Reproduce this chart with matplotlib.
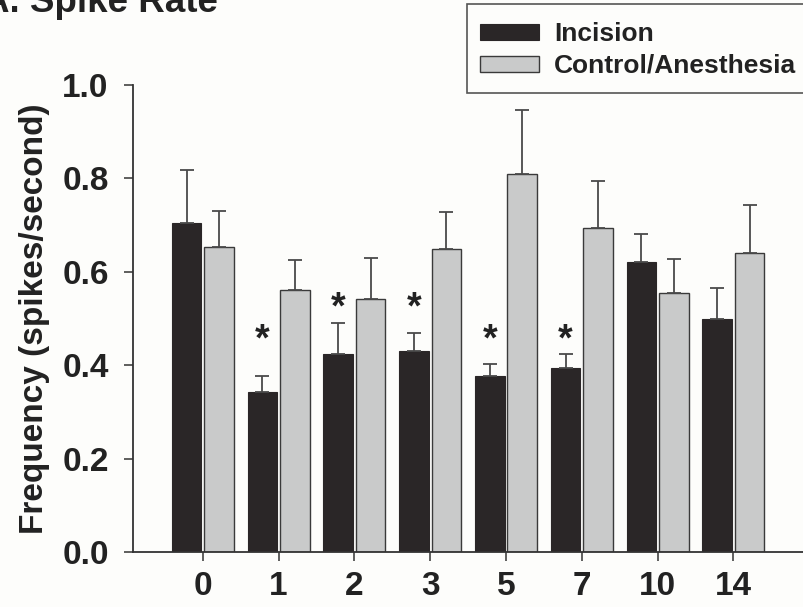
import matplotlib
matplotlib.use("Agg")
import matplotlib.pyplot as plt
from matplotlib.patches import Rectangle
import numpy as np

plt.rcParams['font.family'] = ['Liberation Sans', 'DejaVu Sans']
plt.rcParams['font.weight'] = 'bold'

# days after surgery and mean spike rates with upper SEM
days = ["0", "1", "2", "3", "5", "7", "10", "14"]
incision_mean = [0.704, 0.343, 0.425, 0.430, 0.377, 0.395, 0.621, 0.500]
incision_err = [0.114, 0.033, 0.065, 0.040, 0.025, 0.029, 0.061, 0.065]
control_mean = [0.653, 0.561, 0.541, 0.649, 0.809, 0.693, 0.555, 0.640]
control_err = [0.078, 0.064, 0.089, 0.080, 0.138, 0.101, 0.072, 0.102]
# significance markers (height in spikes/second)
star_days = ["1", "2", "3", "5", "7"]
star_level = [0.452, 0.522, 0.522, 0.452, 0.452]

bg = '#fdfdfb'
fig = plt.figure(figsize=(8.04, 6.07), dpi=100, facecolor=bg)
ax = fig.add_axes([133 / 804, 55 / 607, 671 / 804, 467 / 607])
ax.set_facecolor(bg)

x = np.arange(len(days))
w = 0.39
off = 0.214
ekw = dict(ecolor='#4a4a4a', elinewidth=1.3, capsize=4.8, capthick=1.3)

h1 = ax.bar(x - off, incision_mean, w, color='#2a2627', edgecolor='#2a2627',
            linewidth=0.8, label='Incision',
            yerr=[np.zeros(len(days)), incision_err], error_kw=ekw, zorder=2)
h2 = ax.bar(x + off, control_mean, w, color='#c9caca', edgecolor='#3a3a3a',
            linewidth=1.0, label='Control/Anesthesia',
            yerr=[np.zeros(len(days)), control_err], error_kw=ekw, zorder=2)

for d, lvl in zip(star_days, star_level):
    i = days.index(d)
    ax.text(i - off, lvl, '*', ha='center', va='center', fontsize=27,
            fontweight='bold', color='#222222')

ax.set_xlim(-0.92, 7.93)
ax.set_ylim(0, 1.0)
ax.set_xticks(x)
ax.set_xticklabels(days)
ax.set_yticks([0, 0.2, 0.4, 0.6, 0.8, 1.0])
ax.set_yticklabels(['0.0', '0.2', '0.4', '0.6', '0.8', '1.0'])
ax.tick_params(axis='both', direction='out', length=6.5, width=1.1,
               color='#333333', labelsize=24, labelcolor='#222222')
ax.tick_params(axis='x', pad=7)
ax.tick_params(axis='y', pad=11)
for lab in ax.get_xticklabels() + ax.get_yticklabels():
    lab.set_fontweight('bold')
for s in ['top', 'right']:
    ax.spines[s].set_visible(False)
for s in ['left', 'bottom']:
    ax.spines[s].set_color('#333333')
    ax.spines[s].set_linewidth(1.3)

ax.set_ylabel('Frequency (spikes/second)', fontsize=24, fontweight='bold',
              color='#222222')
ax.yaxis.set_label_coords(-0.124, 0.5)

# legend box runs past the right edge of the figure
fig.patches.append(Rectangle((467 / 804, 1 - 93 / 607), 0.6, 89 / 607,
                             transform=fig.transFigure, facecolor=bg,
                             edgecolor='#555555', linewidth=1.2))
leg = fig.legend(handles=[h1, h2], loc='upper left',
                 bbox_to_anchor=(480 / 804, 1 - 22 / 607),
                 bbox_transform=fig.transFigure, fontsize=19, frameon=False,
                 handlelength=2.23, handleheight=0.55, handletextpad=0.57,
                 labelspacing=0.3, borderpad=0, borderaxespad=0)
for t in leg.get_texts():
    t.set_fontweight('bold')
    t.set_color('#222222')

fig.text(-17 / 804, 1 - 12 / 607, 'A. Spike Rate', fontsize=26.5,
         fontweight='bold', color='#222222', ha='left', va='baseline')

fig.savefig('out.png', dpi=100, facecolor=fig.get_facecolor())
